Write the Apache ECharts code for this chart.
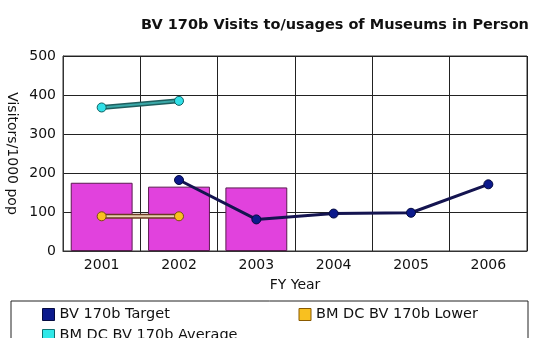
<!DOCTYPE html>
<html>
<head>
<meta charset="utf-8">
<script src="https://cdn.jsdelivr.net/npm/echarts@6/dist/echarts.min.js"></script>
<style>
html, body { margin: 0; padding: 0; background: #ffffff; }
#chart { width: 534px; height: 338px; }
</style>
</head>
<body>
<div id="chart"></div>
<script>
// Fiscal years on the category axis
const years = ['2001', '2002', '2003', '2004', '2005', '2006'];
// Actual visits per 1000 population (bars)
const actual = [175, 165, 163, null, null, null];
// BV 170b target
const target = [null, 182, 81, 96, 98, 171];
// Benchmark district council lower quartile
const lower = [89, 89, null, null, null, null];
// Benchmark district council average
const average = [368, 385, null, null, null, null];
// Value axis ticks
const yTicks = [0, 100, 200, 300, 400, 500];

const font = 'DejaVu Sans, Verdana, sans-serif';

const chart = echarts.init(document.getElementById('chart'), null, { renderer: 'canvas' });

chart.setOption({
  backgroundColor: '#ffffff',
  animation: false,
  title: {
    text: 'BV 170b Visits to/usages of Museums in Person',
    left: 141,
    top: 18,
    padding: 0,
    textStyle: { fontFamily: font, fontSize: 14.5, fontWeight: 'bold', color: '#111' }
  },
  grid: {
    left: 63, right: 7, top: 56, bottom: 87,
    containLabel: false,
    outerBoundsMode: 'none',
    show: true, borderColor: '#333', borderWidth: 1
  },
  xAxis: {
    type: 'category',
    data: years,
    boundaryGap: true,
    name: 'FY Year',
    nameLocation: 'middle',
    nameGap: 27,
    nameTextStyle: { fontFamily: font, fontSize: 14, color: '#111' },
    axisLine: { lineStyle: { color: '#333' } },
    axisTick: { show: false },
    axisLabel: { fontFamily: font, fontSize: 14, color: '#111', margin: 7 },
    splitLine: { show: true, lineStyle: { color: '#222', width: 1 } }
  },
  yAxis: {
    type: 'value',
    min: yTicks[0],
    max: yTicks[yTicks.length - 1],
    interval: 100,
    name: 'Visitors/1000 pop',
    nameLocation: 'middle',
    nameRotate: -90,
    nameGap: 38,
    nameTextStyle: { fontFamily: font, fontSize: 14, color: '#111' },
    axisLine: { show: true, lineStyle: { color: '#333' } },
    axisTick: { show: false },
    axisLabel: { fontFamily: font, fontSize: 14, color: '#111', margin: 7 },
    splitLine: { show: true, lineStyle: { color: '#222', width: 1 } }
  },
  legend: {
    data: [
      { name: 'BV 170b Target', itemStyle: { color: '#0c1a8c', borderColor: '#050a40', borderWidth: 1 } },
      { name: 'BM DC BV 170b Lower', itemStyle: { color: '#f8c020', borderColor: '#8a5a00', borderWidth: 1 },
        textStyle: { width: 170 } },
      { name: 'BM DC BV 170b Average', itemStyle: { color: '#30e8e8', borderColor: '#107070', borderWidth: 1 } }
    ],
    left: 11,
    top: 301,
    width: 470,
    orient: 'horizontal',
    icon: 'rect',
    itemWidth: 12,
    itemHeight: 12,
    itemGap: 6,
    padding: [6, 42, 40, 31],
    borderColor: '#222',
    borderWidth: 1,
    textStyle: { fontFamily: font, fontSize: 14.5, color: '#111', width: 233, lineHeight: 13, overflow: 'truncate' }
  },
  series: [
    {
      name: 'Actual',
      type: 'bar',
      data: actual,
      barCategoryGap: '20%',
      itemStyle: { color: '#e142dd', borderColor: '#5a1a50', borderWidth: 1 },
      z: 2
    },
    {
      name: 'BM DC BV 170b Lower',
      type: 'line',
      data: lower,
      symbol: 'none',
      lineStyle: { color: '#6b3a22', width: 5 },
      z: 3
    },
    {
      name: 'BM DC BV 170b Lower',
      type: 'line',
      data: lower,
      symbol: 'circle',
      symbolSize: 9,
      itemStyle: { color: '#f8c020', borderColor: '#7a4a10', borderWidth: 1 },
      lineStyle: { color: '#e8d0b0', width: 2 },
      z: 4
    },
    {
      name: 'BM DC BV 170b Average',
      type: 'line',
      data: average,
      symbol: 'none',
      lineStyle: { color: '#1e5e5e', width: 5 },
      z: 3
    },
    {
      name: 'BM DC BV 170b Average',
      type: 'line',
      data: average,
      symbol: 'circle',
      symbolSize: 9,
      itemStyle: { color: '#30e0e8', borderColor: '#106060', borderWidth: 1 },
      lineStyle: { color: '#3aa8a8', width: 2 },
      z: 4
    },
    {
      name: 'BV 170b Target',
      type: 'line',
      data: target,
      symbol: 'circle',
      symbolSize: 9,
      itemStyle: { color: '#0c1a8c', borderColor: '#050a40', borderWidth: 1 },
      lineStyle: { color: '#141450', width: 3 },
      z: 5
    }
  ]
});
</script>
</body>
</html>
